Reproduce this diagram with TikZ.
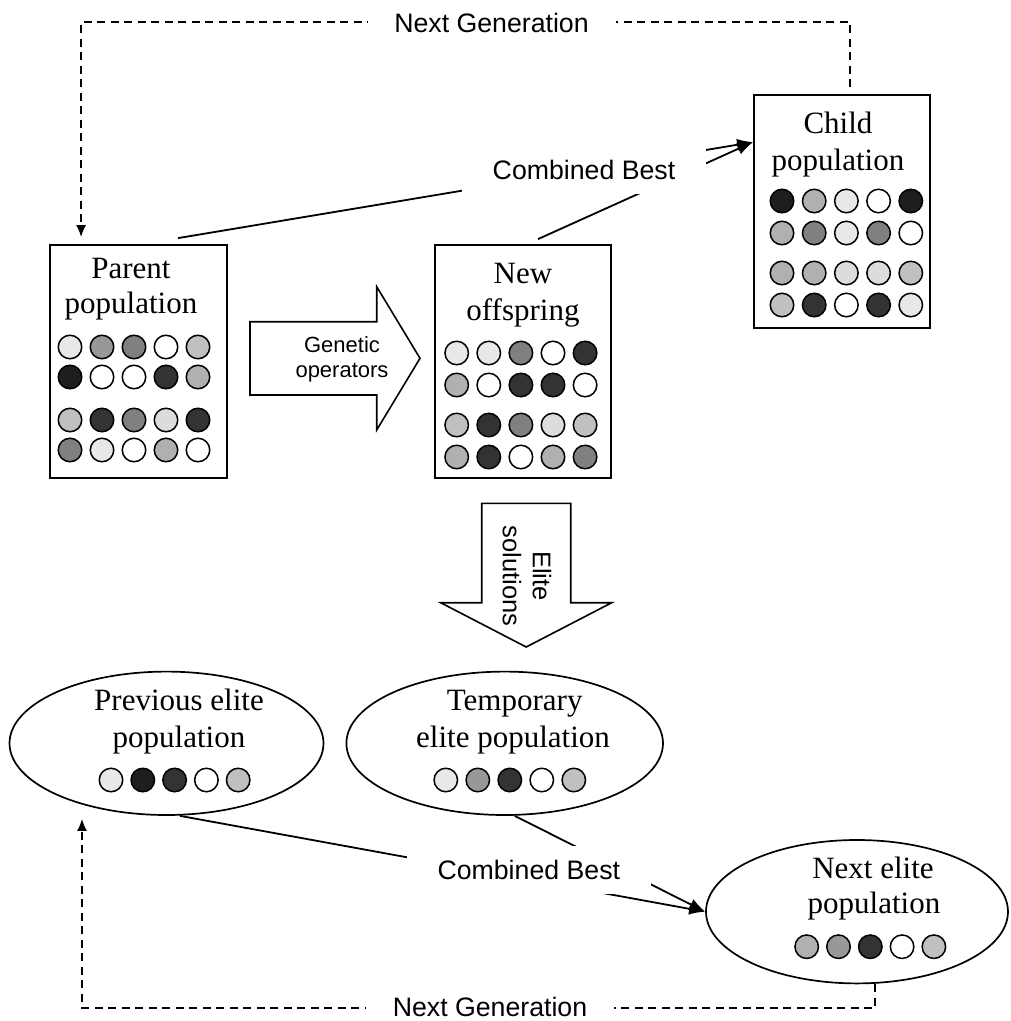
\documentclass[tikz,border=0pt]{standalone}
\usepackage{fontspec}
\setmainfont{Liberation Serif}
\setsansfont{Liberation Sans}
\usetikzlibrary{arrows.meta,calc,shapes.geometric}

% grey shades of the solution dots
\definecolor{ga}{HTML}{E8E8E8}
\definecolor{gb}{HTML}{DCDCDC}
\definecolor{gc}{HTML}{C0C0C0}
\definecolor{gd}{HTML}{B0B0B0}
\definecolor{ge}{HTML}{989898}
\definecolor{gf}{HTML}{808080}
\definecolor{gg}{HTML}{333333}
\definecolor{gh}{HTML}{1E1E1E}

% rows of dots: #1 name prefix, #2 first x, #3 x step, #4 list of y/{colours}
\newcommand{\popdots}[4]{%
  \foreach \yy/\cols [count=\r] in {#4} {%
    \foreach \c [count=\i from 0] in \cols {%
      \node[gene,fill=\c] (#1-\r-\i) at ({#2+#3*\i},\yy) {};
    }%
  }%
}

\begin{document}
\begin{tikzpicture}[x=1pt,y=-1pt,
  popbox/.style={draw,line width=1.8pt,fill=white,inner sep=0pt},
  popell/.style={draw,ellipse,line width=1.7pt,inner sep=0pt},
  poptext/.style={anchor=base,inner sep=0pt,font=\fontsize{31}{36}\selectfont},
  gene/.style={circle,draw,line width=1.5pt,minimum size=23.5pt,inner sep=0pt},
  conn/.style={line width=1.8pt,-{Latex[length=16pt,width=12pt]}},
  dashline/.style={line width=1.6pt,dash pattern=on 8pt off 5.5pt,-{Latex[length=12pt,width=10pt]}},
  cblabel/.style={fill=white,inner sep=0pt,font=\fontsize{26.7}{30}\sffamily,
                  minimum width=244pt,minimum height=48pt},
  nglabel/.style={fill=white,inner sep=0pt,font=\fontsize{26.7}{30}\sffamily,
                  minimum width=248pt,minimum height=14pt},
  fatarrow/.style={draw,line width=1.6pt,fill=white,line join=miter}]

\fill[white] (0,0) rectangle (1011,1021);
\useasboundingbox (0,0) rectangle (1011,1021);

% population boxes
\node[popbox,minimum width=177pt,minimum height=233pt] (parent) at (138.5,361.5) {};
\node[popbox,minimum width=176pt,minimum height=233pt] (offspring) at (523,361.5) {};
\node[popbox,minimum width=176pt,minimum height=233pt] (child) at (842,211.5) {};

\node[poptext] (parentT1) at (131,278.3) {Parent};
\node[poptext] (parentT2) at (131,313.3) {population};
\node[poptext] (offT1) at (523,283.3) {New};
\node[poptext] (offT2) at (523,320) {offspring};
\node[poptext] (childT1) at (838,133.3) {Child};
\node[poptext] (childT2) at (838,170) {population};

\popdots{pd}{70}{32}{347/{ga,ge,gf,white,gc}, 377/{gh,white,white,gg,gd},
  420/{gc,gg,gf,gb,gg}, 450/{gf,ga,white,gd,white}}
\popdots{od}{456.7}{32.1}{353/{ga,ga,gf,white,gg}, 385/{gd,white,gg,gg,white},
  425/{gc,gg,gf,gb,gc}, 457/{gd,gg,white,gd,gf}}
\popdots{cd}{782}{32.2}{201/{gh,gd,ga,white,gh}, 233/{gd,gf,ga,gf,white},
  273/{gd,gd,gb,gb,gc}, 305/{gc,gg,white,gg,ga}}

% elite populations
\node[popell,minimum width=314pt,minimum height=143.4pt] (prev) at (166.5,743.3) {};
\node[popell,minimum width=316.6pt,minimum height=143.4pt] (temp) at (504.7,743.3) {};
\node[popell,minimum width=302pt,minimum height=143.4pt] (next) at (857,911.7) {};

\node[poptext] (prevT1) at (179,710) {Previous elite};
\node[poptext] (prevT2) at (179,747) {population};
\node[poptext] (tempT1) at (514.7,710) {Temporary};
\node[poptext] (tempT2) at (513,747) {elite population};
\node[poptext] (nextT1) at (873,878.3) {Next elite};
\node[poptext] (nextT2) at (874,913.3) {population};

\popdots{ed}{111}{31.8}{780/{ga,gh,gg,white,gc}}
\popdots{td}{445.8}{32}{780/{ga,ge,gg,white,gc}}
\popdots{nd}{806.7}{31.8}{946.7/{gd,ge,gg,white,gc}}

% block arrows
\draw[fatarrow] (250,321.7) -- (376.7,321.7) -- (376.7,286.7) -- (420,358.3)
  -- (376.7,430) -- (376.7,395) -- (250,395) -- cycle;
\node[align=center,inner sep=0pt,font=\fontsize{22}{25}\sffamily] (genop) at (342,359) {Genetic\\operators};

\draw[fatarrow] (481.7,503.3) -- (570.7,503.3) -- (570.7,602.7) -- (611.7,602.7)
  -- (526.2,647) -- (440.7,602.7) -- (481.7,602.7) -- cycle;
\node[rotate=-90,align=center,inner sep=0pt,font=\fontsize{25.5}{30}\sffamily] (elite) at (527,576) {Elite\\solutions};

% combining parents and offspring into the child population
\coordinate (childIn) at ($(child.north west)+(0,48)$);
\draw[conn] ($(parent.north)+(39.5,-6)$) -- (childIn);
\draw[conn] ($(offspring.north)+(15,-5)$) -- (childIn);
\node[cblabel] (cbtop) at (584,170) {Combined Best};

% combining elite populations
\draw[conn] ($(prev.south)+(13.5,0)$) -- (next.west);
\draw[conn] ($(temp.south)+(10,0)$) -- (next.west);
\node[cblabel] (cbbot) at (528.8,869.5) {Combined Best};

% generation loops
\draw[dashline] ($(child.north)+(8,-7)$) -- ++(0,-65) -| ($(parent.north west)+(32,-7)$);
\node[nglabel] (ngtop) at (491.5,23) {Next Generation};

\draw[dashline] ($(next.south)+(18,0)$) -- ++(0,24) -| ($(prev.south)+(-84.5,3)$);
\node[nglabel] (ngbot) at (490,1007) {Next Generation};

\end{tikzpicture}
\end{document}
